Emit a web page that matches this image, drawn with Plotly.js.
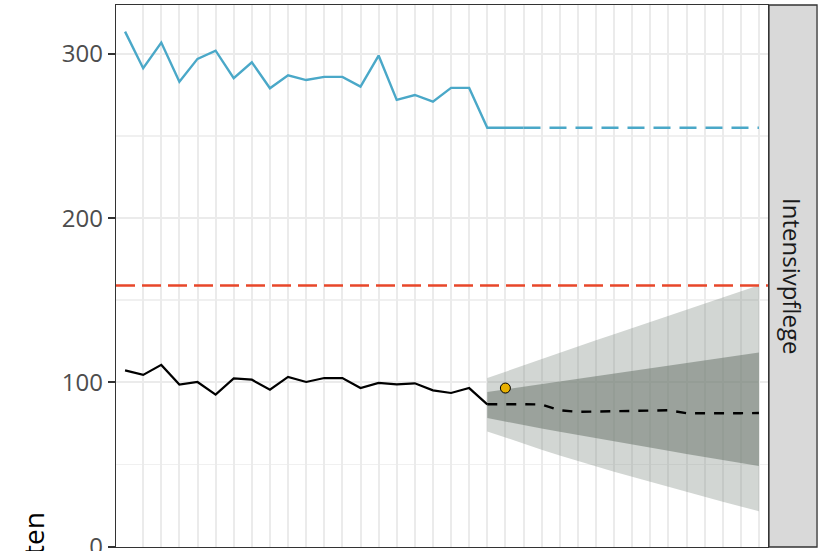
<!DOCTYPE html>
<html>
<head>
<meta charset="utf-8">
<script src="https://cdn.plot.ly/plotly-3.0.1.min.js"></script>
<style>html,body{margin:0;padding:0;background:#fff;}#chart{width:822px;height:551px;}</style>
</head>
<body>
<div id="chart"></div>
<script>
// ---- data ----
const periods = [0,1,2,3,4,5,6,7,8,9,10,11,12,13,14,15,16,17,18,19,20,21,22,23,24,25,26,27,28,29,30,31,32,33,34,35];

// blue series: observed capacity (periods 0..22), then projection (22..35)
const capacityObserved = [313.6,291.3,306.9,283.1,297.0,302.0,285.2,294.9,279.1,287.0,284.1,286.0,286.0,280.1,299.0,272.0,275.0,270.9,279.3,279.3,255.0,255.0,255.0];
const capacityProjected = [255,255,255,255,255,255,255,255,255,255,255,255,255,255];

// black series: observed occupancy (periods 0..20)
const occupancy = [107.3,104.5,110.6,98.6,100.2,92.5,102.4,101.6,95.5,103.3,100.2,102.6,102.6,96.5,99.6,98.8,99.4,95.1,93.5,96.5,86.6];

// forecast (periods 20..35)
const forecastMedian = [86.6,86.8,86.7,86.5,83.0,82.0,82.2,82.1,82.4,82.9,83.0,81.2,81.1,81.1,81.2,81.3];
const upper95 = [102.6,106.5,110.3,114.2,118.0,121.8,125.6,129.3,133.0,136.7,140.4,144.1,147.8,151.5,155.3,159.1];
const lower95 = [70.1,66.3,62.6,59.0,55.5,52.1,48.8,45.6,42.5,39.4,36.3,33.3,30.3,27.3,24.4,21.5];
const upper80 = [94.1,95.7,97.3,98.9,100.5,102.1,103.7,105.2,106.8,108.4,110.0,111.6,113.2,114.8,116.4,118.1];
const lower80 = [78.2,76.0,73.9,71.8,69.9,67.9,66.0,64.0,62.1,60.2,58.3,56.4,54.6,52.7,50.9,49.0];

// new observation
const newObsPeriod = [21];
const newObsValue = [96.5];

// threshold line
const threshold = 159;

const yTicks = [0, 100, 200, 300];
const facetLabel = 'Intensivpflege';
const yTitle = 'Belegte Betten';

// ---- derived x arrays ----
const xCapObs = periods.slice(0, capacityObserved.length);
const xCapProj = periods.slice(capacityObserved.length - 1, capacityObserved.length - 1 + capacityProjected.length);
const xOcc = periods.slice(0, occupancy.length);
const xFc = periods.slice(occupancy.length - 1, occupancy.length - 1 + forecastMedian.length);

const outerFill = 'rgba(126,138,129,0.35)';
const innerFill = 'rgba(110,120,112,0.55)';

const traces = [
  {x: xFc, y: lower95, type: 'scatter', mode: 'lines', line: {width: 0, color: outerFill}, hoverinfo: 'skip', showlegend: false},
  {x: xFc, y: upper95, type: 'scatter', mode: 'lines', fill: 'tonexty', fillcolor: outerFill, line: {width: 0, color: outerFill}, hoverinfo: 'skip', showlegend: false},
  {x: xFc, y: lower80, type: 'scatter', mode: 'lines', line: {width: 0, color: innerFill}, hoverinfo: 'skip', showlegend: false},
  {x: xFc, y: upper80, type: 'scatter', mode: 'lines', fill: 'tonexty', fillcolor: innerFill, line: {width: 0, color: innerFill}, hoverinfo: 'skip', showlegend: false},
  {x: xCapObs, y: capacityObserved, type: 'scatter', mode: 'lines', line: {color: '#4AA8C8', width: 2.4}, showlegend: false},
  {x: xCapProj, y: capacityProjected, type: 'scatter', mode: 'lines', line: {color: '#4AA8C8', width: 2.4, dash: '17px,9px'}, showlegend: false},
  {x: xOcc, y: occupancy, type: 'scatter', mode: 'lines', line: {color: '#000000', width: 2.2}, showlegend: false},
  {x: xFc, y: forecastMedian, type: 'scatter', mode: 'lines', line: {color: '#000000', width: 2.4, dash: '10px,9px'}, showlegend: false},
  {x: newObsPeriod, y: newObsValue, type: 'scatter', mode: 'markers', marker: {color: '#E8B000', size: 10, line: {color: '#000000', width: 1}}, showlegend: false}
];

const gridX = periods.slice(1);

const layout = {
  width: 822, height: 551,
  margin: {l: 116, r: 54, t: 5, b: 4},
  paper_bgcolor: '#ffffff', plot_bgcolor: '#ffffff',
  font: {family: 'Open Sans, sans-serif'},
  showlegend: false,
  xaxis: {
    range: [-0.5, 35.5], tickmode: 'array', tickvals: gridX, showticklabels: false, ticks: '',
    showgrid: true, gridcolor: '#EBEBEB', gridwidth: 2, zeroline: false,
    showline: true, linecolor: '#333333', linewidth: 1.3, mirror: true
  },
  yaxis: {
    range: [-0.3, 329.8], tickmode: 'array', tickvals: yTicks, ticktext: yTicks.map(String),
    ticks: 'outside', ticklen: 7, tickwidth: 2, tickcolor: '#333333',
    ticklabeloverflow: 'allow',
    tickfont: {family: 'Open Sans, sans-serif', size: 24, color: '#4D4D4D'},
    showgrid: true, gridcolor: '#EBEBEB', gridwidth: 2, zeroline: false,
    minor: {tickmode: 'linear', tick0: 50, dtick: 100, showgrid: true, gridcolor: '#F0F0F0', gridwidth: 1.5, ticks: ''},
    showline: true, linecolor: '#333333', linewidth: 1.3, mirror: true
  },
  shapes: [
    {type: 'line', xref: 'paper', yref: 'y', x0: 0, x1: 1, y0: threshold, y1: threshold,
     line: {color: '#E8472A', width: 2.6, dash: '19px,7px'}, layer: 'above'},
    {type: 'rect', xref: 'paper', yref: 'paper', x0: 1.0015, x1: 1.0752, y0: 0, y1: 1,
     fillcolor: '#D9D9D9', line: {color: '#333333', width: 1.3}, layer: 'above'}
  ],
  annotations: [
    {text: facetLabel, xref: 'paper', yref: 'paper', x: 1.0383, y: 0.5, xanchor: 'center', yanchor: 'middle',
     textangle: 90, showarrow: false, font: {family: 'Open Sans, sans-serif', size: 24, color: '#1A1A1A'}},
    {text: yTitle, xref: 'paper', yref: 'paper', x: -0.1273, y: 0.0664, xanchor: 'center', yanchor: 'top',
     textangle: -90, showarrow: false, font: {family: 'Open Sans, sans-serif', size: 28, color: '#000000'}}
  ]
};

Plotly.newPlot('chart', traces, layout, {displayModeBar: false, staticPlot: true});
</script>
</body>
</html>
